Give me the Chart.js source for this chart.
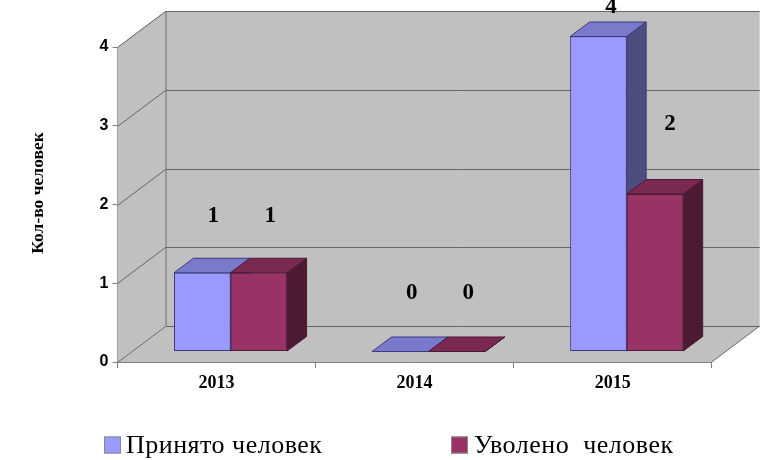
<!DOCTYPE html>
<html><head><meta charset="utf-8">
<style>html,body{margin:0;padding:0;background:#fff}canvas{display:block}</style>
<script src="https://cdn.jsdelivr.net/npm/chart.js@4"></script>
</head><body><canvas id="c" width="760" height="460"></canvas>
<script>
const categories = ['2013', '2014', '2015'];
const hired = [1, 0, 4];
const fired = [1, 0, 2];
const hiredLabel = 'Принято человек';
const firedLabel = 'Уволено  человек';
const yTitle = 'Кол-во человек';

// 3D look
const wall = {dx: 48, dy: -36};
const barShift = {dx: 14, dy: -10.5};
const barDepth = {dx: 19.5, dy: -14.5};
const faces = [
  {front: '#9999FF', top: '#7A7ACC', side: '#4D4D80', edge: '#3A3A80'},
  {front: '#993366', top: '#7A2952', side: '#4D1A33', edge: '#4D1A33'}
];
// data-label placement relative to the bar front's top centre
const labelDx = [[11, 11.5, 12.5], [11.5, 11.5, 15]];
const labelLift = [[57, 58.5, 29, ], [57, 58.5, 70]];
const legendItems = [{box: 104, text: 126, y: 446}, {box: 451, text: 474, y: 446}];
const serif = '"Liberation Serif"', sans = '"Liberation Sans"';

function poly(ctx, pts, fill, stroke) {
  ctx.beginPath();
  pts.forEach((p, i) => i ? ctx.lineTo(p[0], p[1]) : ctx.moveTo(p[0], p[1]));
  ctx.closePath();
  if (fill) { ctx.fillStyle = fill; ctx.fill(); }
  if (stroke) { ctx.strokeStyle = stroke; ctx.lineWidth = 1; ctx.stroke(); }
}

const scene = {
  id: 'scene',
  beforeDatasetsDraw(chart) {
    const ctx = chart.ctx, y = chart.scales.y, x = chart.scales.x;
    const l = x.left, r = x.right, t = y.top, b = y.bottom;
    const d = wall;
    ctx.save();
    poly(ctx, [[l + d.dx, t + d.dy], [r + d.dx, t + d.dy], [r + d.dx, b + d.dy], [l + d.dx, b + d.dy]], '#C0C0C0');
    poly(ctx, [[l, t], [l + d.dx, t + d.dy], [l + d.dx, b + d.dy], [l, b]], '#C0C0C0');
    poly(ctx, [[l, b], [l + d.dx, b + d.dy], [r + d.dx, b + d.dy], [r, b]], '#C0C0C0');
    ctx.strokeStyle = '#666666'; ctx.lineWidth = 1;
    y.ticks.forEach(tk => {
      const py = Math.round(y.getPixelForValue(tk.value)) + 0.5;
      ctx.beginPath();
      ctx.moveTo(l, py);
      ctx.lineTo(l + d.dx, py + d.dy);
      ctx.lineTo(r + d.dx, py + d.dy);
      ctx.stroke();
    });
    ctx.beginPath();
    ctx.moveTo(l + d.dx + .5, t + d.dy);
    ctx.lineTo(l + d.dx + .5, b + d.dy);
    ctx.moveTo(r, b);
    ctx.lineTo(r + d.dx, b + d.dy);
    ctx.stroke();

    chart.data.datasets.forEach((ds, di) => {
      const meta = chart.getDatasetMeta(di), f = faces[di];
      meta.data.forEach(el => {
        const p = el.getProps(['x', 'y', 'base', 'width'], true);
        const x0 = p.x - p.width / 2 + barShift.dx, x1 = p.x + p.width / 2 + barShift.dx;
        const yt = p.y + barShift.dy, yb = p.base + barShift.dy;
        const ddx = barDepth.dx, ddy = barDepth.dy;
        poly(ctx, [[x1, yt], [x1 + ddx, yt + ddy], [x1 + ddx, yb + ddy], [x1, yb]], f.side, f.edge);
        poly(ctx, [[x0, yt], [x0 + ddx, yt + ddy], [x1 + ddx, yt + ddy], [x1, yt]], f.top, f.edge);
        ctx.save();
        ctx.translate(barShift.dx, barShift.dy);
        el.draw(ctx);
        ctx.restore();
      });
    });
    ctx.restore();

    // data labels, axis title, legend
    ctx.save();
    ctx.fillStyle = '#000';
    ctx.textAlign = 'center';
    ctx.textBaseline = 'middle';
    ctx.font = 'bold 23px ' + serif;
    chart.data.datasets.forEach((ds, di) => {
      chart.getDatasetMeta(di).data.forEach((el, i) => {
        const p = el.getProps(['x', 'y'], true);
        ctx.fillText(String(ds.data[i]), p.x + barShift.dx + labelDx[di][i], p.y + barShift.dy - labelLift[di][i]);
      });
    });
    ctx.save();
    ctx.translate(38, 193);
    ctx.rotate(-Math.PI / 2);
    ctx.font = 'bold 17.5px ' + serif;
    ctx.fillText(yTitle, 0, 0);
    ctx.restore();
    ctx.textAlign = 'left';
    ctx.font = '26px ' + serif;
    ctx.letterSpacing = '0.5px';
    chart.data.datasets.forEach((ds, di) => {
      const it = legendItems[di];
      ctx.fillStyle = faces[di].front;
      ctx.fillRect(it.box, it.y - 9.5, 17, 17);
      ctx.strokeStyle = '#888'; ctx.lineWidth = 1;
      ctx.strokeRect(it.box + .5, it.y - 9, 16, 16);
      ctx.fillStyle = '#000';
      ctx.fillText(ds.label, it.text, it.y);
    });
    ctx.restore();
    return false;
  }
};

new Chart(document.getElementById('c'), {
  type: 'bar',
  data: {
    labels: categories,
    datasets: [
      {label: hiredLabel, data: hired, backgroundColor: faces[0].front, borderColor: faces[0].edge, borderWidth: 1, borderSkipped: false},
      {label: firedLabel, data: fired, backgroundColor: faces[1].front, borderColor: faces[1].edge, borderWidth: 1, borderSkipped: false}
    ]
  },
  options: {
    responsive: false,
    devicePixelRatio: 1,
    animation: false,
    layout: {padding: {left: 0, right: 48.3, top: 47, bottom: 0}},
    plugins: {legend: {display: false}, tooltip: {enabled: false}, title: {display: false}},
    datasets: {bar: {categoryPercentage: 0.571, barPercentage: 1}},
    scales: {
      x: {
        afterFit(s) { s.height = 98; },
        grid: {drawOnChartArea: false, offset: true, tickLength: 6, color: '#808080'},
        border: {color: '#808080'},
        ticks: {color: '#000', padding: 5, maxRotation: 0, font: {family: serif, size: 18, weight: 'bold'}}
      },
      y: {
        min: 0, max: 4,
        afterFit(s) { s.width = 117.5; },
        grid: {drawOnChartArea: false, tickLength: 5, color: '#808080'},
        border: {color: '#808080'},
        ticks: {stepSize: 1, color: '#000', padding: 4, font: {family: sans, size: 16, weight: 'bold'}}
      }
    }
  },
  plugins: [scene]
});
</script></body></html>
